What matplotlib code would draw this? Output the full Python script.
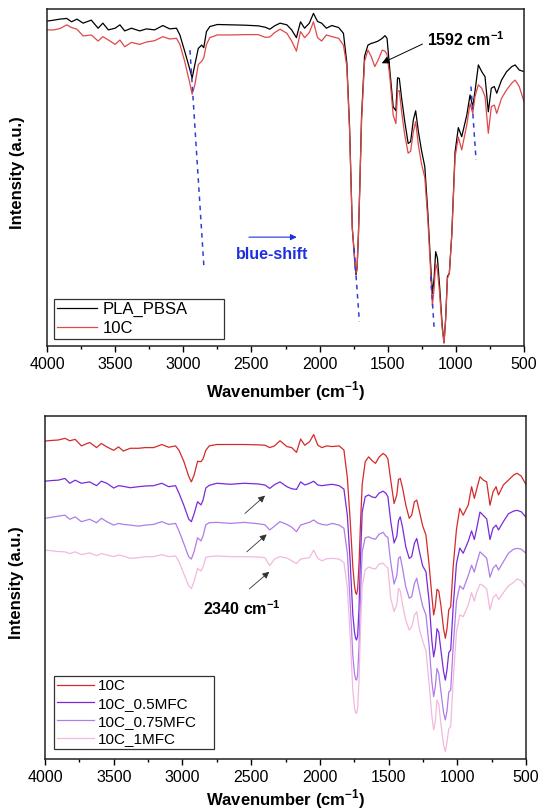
import matplotlib
matplotlib.use('Agg')
import matplotlib.pyplot as plt
from matplotlib.ticker import MultipleLocator

plt.rcParams['font.family'] = ['Liberation Sans', 'DejaVu Sans']
plt.rcParams['mathtext.fontset'] = 'custom'
plt.rcParams['mathtext.rm'] = 'Liberation Sans'
plt.rcParams['mathtext.bf'] = 'Liberation Sans:bold'

# wavenumber grid (cm-1) shared by all spectra
wn = [4000, 3950, 3905, 3855, 3820, 3780, 3735, 3675, 3625, 3590,
      3550, 3500, 3465, 3430, 3380, 3320, 3270, 3210, 3150, 3100,
      3050, 3025, 2990, 2955, 2935, 2915, 2890, 2865, 2850, 2830,
      2805, 2750, 2650, 2550, 2450, 2400, 2365, 2330, 2290, 2240,
      2205, 2170, 2140, 2110, 2075, 2045, 2015, 1985, 1950, 1910,
      1860, 1825, 1800, 1780, 1760, 1748, 1740, 1733, 1725, 1715,
      1705, 1692, 1670, 1645, 1620, 1595, 1570, 1540, 1520, 1505,
      1485, 1460, 1440, 1428, 1415, 1398, 1375, 1350, 1332, 1312,
      1295, 1275, 1252, 1228, 1205, 1185, 1172, 1160, 1148, 1135,
      1120, 1100, 1087, 1075, 1062, 1048, 1030, 1006, 982, 957,
      920, 896, 876, 860, 835, 810, 786, 762, 740, 718,
      700, 665, 628, 590, 565, 535, 500]

# top panel
pla_pbsa = [96.4, 96.7, 97.0, 97.2, 96.2, 97.0, 95.8, 96.7, 94.3, 95.8,
            93.8, 94.3, 95.3, 93.5, 94.3, 93.5, 94.1, 93.8, 95.1, 94.1,
            94.3, 92.3, 87.5, 82.5, 79.5, 83.5, 88.3, 89.3, 88.5, 93.3,
            94.8, 95.4, 95.3, 95.2, 95.0, 94.6, 94.0, 95.0, 95.8, 95.3,
            93.8, 91.5, 96.2, 94.3, 95.8, 98.7, 96.3, 95.8, 94.3, 95.1,
            94.5, 92.8, 84.0, 65.0, 35.0, 28.5, 24.0, 21.1, 23.0, 33.0,
            47.0, 68.0, 86.0, 89.3, 89.8, 90.1, 90.5, 91.3, 92.1, 91.3,
            82.0, 71.0, 69.8, 79.6, 79.4, 73.5, 66.6, 60.1, 60.6, 67.1,
            69.8, 63.6, 58.0, 53.2, 39.0, 24.0, 15.5, 20.0, 28.0, 26.0,
            18.0, 6.0, 1.0, 8.0, 20.6, 21.6, 33.0, 57.5, 64.8, 62.1,
            68.5, 74.5, 71.0, 75.5, 83.4, 81.4, 79.9, 69.5, 76.5, 77.0,
            75.0, 78.9, 81.4, 82.9, 83.4, 81.9, 81.4]
c10_top = [93.8, 93.8, 94.2, 95.3, 94.5, 94.0, 92.0, 92.3, 90.5, 91.8,
           90.8, 89.5, 90.8, 88.8, 90.1, 89.5, 90.2, 90.6, 91.8, 91.1,
           91.3, 89.5, 84.5, 78.5, 74.7, 77.5, 83.5, 84.5, 85.5, 89.5,
           91.5, 92.3, 92.3, 92.4, 92.4, 91.6, 91.7, 93.0, 94.0, 92.8,
           90.5, 87.5, 93.3, 91.5, 93.0, 96.2, 91.5, 90.5, 92.3, 91.8,
           91.3, 89.3, 83.0, 64.0, 35.0, 29.0, 24.5, 21.6, 23.0, 33.0,
           47.0, 67.0, 84.5, 87.8, 85.8, 82.9, 84.9, 87.8, 87.5, 86.5,
           80.0, 68.5, 66.0, 75.5, 75.8, 69.5, 62.6, 57.2, 57.8, 63.6,
           66.6, 59.6, 54.0, 50.0, 37.0, 22.0, 12.0, 17.0, 24.5, 22.5,
           16.0, 5.0, 0.8, 8.0, 20.0, 21.5, 33.0, 56.0, 62.0, 58.2,
           65.6, 72.0, 69.0, 74.0, 77.5, 76.5, 74.0, 63.1, 71.0, 71.5,
           69.0, 73.5, 76.0, 78.0, 78.9, 77.0, 72.5]

# bottom panel
c10 = [92.7, 92.9, 93.0, 93.5, 92.8, 93.2, 91.3, 92.3, 90.8, 92.0,
       91.0, 90.0, 91.0, 89.8, 90.6, 90.6, 90.8, 90.8, 91.7, 90.9,
       91.3, 90.0, 86.8, 82.5, 80.8, 82.8, 86.8, 86.7, 87.5, 90.0,
       91.3, 91.7, 91.7, 91.7, 91.6, 91.5, 90.8, 91.3, 92.8, 91.1,
       90.8, 89.4, 93.3, 91.5, 92.5, 94.6, 91.5, 90.8, 91.3, 91.1,
       91.3, 90.1, 82.0, 70.0, 56.0, 50.5, 48.5, 48.0, 49.5, 57.0,
       68.0, 80.0, 86.7, 88.1, 87.0, 86.2, 88.0, 89.1, 88.5, 87.5,
       81.5, 74.5, 77.0, 81.5, 81.8, 79.0, 74.1, 70.2, 71.1, 75.0,
       75.5, 72.1, 68.0, 65.3, 56.6, 47.5, 42.0, 44.5, 49.5, 49.0,
       45.0, 38.0, 35.2, 38.0, 43.5, 44.4, 56.1, 67.0, 73.1, 71.1,
       74.1, 79.4, 76.0, 78.5, 82.3, 81.3, 80.8, 74.0, 77.9, 79.4,
       77.0, 79.9, 81.3, 82.8, 83.3, 82.5, 80.0]
c10_05mfc = [81.0, 81.2, 81.3, 81.8, 80.4, 81.3, 80.4, 80.8, 79.7, 81.0,
             80.4, 79.0, 79.7, 79.5, 79.1, 79.4, 79.6, 79.7, 80.4, 79.4,
             79.7, 77.5, 74.0, 70.0, 69.2, 71.5, 75.0, 74.1, 75.5, 79.0,
             79.8, 80.4, 80.1, 80.4, 80.2, 79.9, 78.9, 80.0, 80.8, 79.4,
             78.8, 78.6, 80.8, 79.9, 80.4, 81.0, 79.9, 79.7, 79.9, 80.1,
             79.7, 78.7, 71.0, 58.0, 42.0, 37.0, 35.2, 34.7, 36.0, 44.0,
             58.0, 72.0, 76.5, 77.0, 76.4, 76.2, 77.5, 78.1, 77.5, 76.5,
             69.5, 63.0, 65.0, 69.5, 70.6, 67.5, 61.9, 58.5, 59.0, 62.9,
             64.3, 60.4, 56.3, 54.6, 46.0, 34.5, 29.8, 32.5, 38.0, 37.0,
             32.0, 25.5, 23.0, 26.0, 31.0, 31.8, 44.4, 57.0, 61.5, 60.0,
             63.5, 66.5, 64.0, 67.0, 72.0, 71.0, 70.0, 64.0, 67.3, 68.2,
             66.8, 69.2, 71.5, 72.3, 72.5, 72.1, 70.5]
c10_075mfc = [70.2, 70.5, 70.8, 71.1, 69.9, 70.6, 69.2, 69.9, 68.9, 70.2,
              69.2, 68.2, 68.7, 68.4, 68.2, 67.9, 68.2, 68.4, 69.2, 68.4,
              68.7, 66.5, 62.8, 59.0, 58.3, 60.5, 64.5, 63.6, 65.0, 68.3,
              68.9, 69.0, 68.7, 69.0, 68.6, 68.3, 66.8, 67.9, 69.2, 68.4,
              67.6, 66.3, 68.2, 68.6, 69.0, 69.7, 68.8, 68.4, 68.2, 68.7,
              68.2, 67.3, 60.0, 46.0, 30.0, 25.0, 23.3, 23.0, 24.5, 33.0,
              47.0, 60.5, 64.5, 64.8, 64.3, 64.1, 65.5, 66.1, 65.0, 64.6,
              57.5, 51.0, 53.5, 58.5, 59.0, 55.5, 50.2, 46.9, 47.3, 51.2,
              52.7, 48.8, 44.6, 42.0, 33.0, 22.5, 18.2, 21.0, 26.4, 25.0,
              20.0, 13.5, 11.4, 14.0, 19.5, 20.1, 32.7, 46.0, 50.5, 49.5,
              53.5, 56.5, 54.5, 57.0, 60.4, 59.5, 58.5, 53.0, 55.6, 56.6,
              55.1, 57.5, 60.0, 61.2, 61.4, 61.2, 60.0]
c10_1mfc = [60.9, 60.7, 60.5, 60.4, 59.9, 60.4, 59.6, 60.1, 59.3, 59.9,
            59.5, 59.0, 59.5, 59.2, 58.5, 58.7, 59.0, 59.0, 59.6, 59.0,
            59.2, 57.5, 54.0, 50.5, 49.7, 51.8, 55.6, 54.8, 56.0, 58.8,
            59.0, 59.2, 59.0, 59.0, 58.9, 58.7, 56.4, 58.3, 59.0, 58.6,
            57.8, 57.0, 58.3, 58.5, 58.7, 60.9, 58.5, 57.8, 58.4, 58.5,
            58.3, 57.3, 50.0, 36.0, 20.0, 15.0, 13.5, 13.3, 14.8, 23.0,
            37.0, 50.5, 55.1, 56.0, 55.6, 55.4, 56.8, 57.1, 56.2, 55.7,
            47.0, 43.0, 45.0, 49.8, 49.0, 45.0, 40.5, 37.6, 38.5, 42.0,
            42.9, 37.6, 34.5, 31.5, 22.0, 12.5, 8.5, 11.0, 17.2, 16.0,
            10.5, 4.0, 2.1, 5.0, 8.8, 9.4, 23.0, 37.0, 42.0, 41.5,
            45.0, 48.5, 46.0, 48.5, 51.0, 50.5, 49.5, 43.5, 47.0, 48.0,
            46.5, 48.5, 50.5, 51.5, 52.5, 52.0, 50.0]

# blue dashed guide lines (start wn, start I, end wn, end I)
guide_x0 = [2951, 1747, 1185, 889]
guide_y0 = [87.8, 29.0, 20.6, 77.0]
guide_x1 = [2848, 1708, 1160, 852]
guide_y1 = [23.0, 7.2, 5.7, 55.2]

# arrows pointing to 2340 cm-1 (bottom panel)
co2_x0 = [2545, 2532, 2513]
co2_y0 = [71.6, 60.4, 49.6]
co2_x1 = [2399, 2387, 2368]
co2_y1 = [76.8, 65.5, 54.6]

fig = plt.figure(figsize=(5.39, 8.11), dpi=100)
ax1 = fig.add_axes([0.0872, 0.5734, 0.885, 0.4155])
ax2 = fig.add_axes([0.0835, 0.0641, 0.8924, 0.4229])

ax1.plot(wn, pla_pbsa, color='black', lw=0.9, label='PLA_PBSA')
ax1.plot(wn, c10_top, color='#E0484A', lw=0.9, label='10C')

for i in range(len(guide_x0)):
    ax1.plot([guide_x0[i], guide_x1[i]], [guide_y0[i], guide_y1[i]],
             color='#2E3FD6', lw=1.1, ls=(0, (3, 3)))

ax1.annotate('', xy=(1544, 83.9), xytext=(1245, 89.6),
             arrowprops=dict(arrowstyle='-|>', color='black', lw=0.7,
                             mutation_scale=11, shrinkA=0, shrinkB=0))
ax1.text(1214, 90.8, r'1592 cm$^{\mathbf{-1}}$', fontsize=11.5,
         fontweight='bold', ha='left', va='center')

ax1.annotate('', xy=(2168, 32.3), xytext=(2518, 32.3),
             arrowprops=dict(arrowstyle='-|>', color='#1F2FE0', lw=0.8,
                             mutation_scale=9, shrinkA=0, shrinkB=0))
ax1.text(2611, 27.0, 'blue-shift', fontsize=11.5, fontweight='bold',
         color='#1F2FE0', ha='left', va='center')

ax2.plot(wn, c10, color='#D42A2A', lw=0.9, label='10C')
ax2.plot(wn, c10_05mfc, color='#7A2BD9', lw=0.9, label='10C_0.5MFC')
ax2.plot(wn, c10_075mfc, color='#B07CEA', lw=0.9, label='10C_0.75MFC')
ax2.plot(wn, c10_1mfc, color='#F4B8DE', lw=0.9, label='10C_1MFC')

for i in range(len(co2_x0)):
    ax2.annotate('', xy=(co2_x1[i], co2_y1[i]), xytext=(co2_x0[i], co2_y0[i]),
                 arrowprops=dict(arrowstyle='-|>', color='#333333', lw=0.6,
                                 mutation_scale=10, shrinkA=0, shrinkB=0))
ax2.text(2850, 43.9, r'2340 cm$^{\mathbf{-1}}$', fontsize=11.5,
         fontweight='bold', ha='left', va='center')

for ax in (ax1, ax2):
    ax.set_xlim(4000, 500)
    ax.set_ylim(0, 100)
    ax.set_yticks([])
    ax.xaxis.set_major_locator(MultipleLocator(500))
    ax.xaxis.set_minor_locator(MultipleLocator(250))
    ax.tick_params(axis='x', which='major', direction='out', length=4,
                   width=1, pad=4, labelsize=11.5)
    ax.tick_params(axis='x', which='minor', direction='out', length=2.5, width=1)
    for s in ax.spines.values():
        s.set_linewidth(1.1)
        s.set_color('#222222')
    ax.set_xlabel(r'Wavenumber (cm$^{\mathbf{-1}}$)', fontsize=12,
                  fontweight='bold')
    ax.set_ylabel('Intensity (a.u.)', fontsize=12, fontweight='bold')

ax1.xaxis.set_label_coords(0.5, -0.10)
ax2.xaxis.set_label_coords(0.5, -0.084)
ax1.yaxis.set_label_coords(-0.047, 0.513)
ax2.yaxis.set_label_coords(-0.043, 0.513)

leg1 = ax1.legend(loc='lower left', bbox_to_anchor=(0.0147, 0.0208, 0.356, 0.13),
                  mode='expand', borderaxespad=0, fontsize=12, frameon=True,
                  fancybox=False, edgecolor='black', handlelength=2.4,
                  handletextpad=0.3, labelspacing=0.2, borderpad=0.2)
leg1.get_frame().set_linewidth(0.9)

leg2 = ax2.legend(loc='lower left', bbox_to_anchor=(0.0187, 0.028, 0.333, 0.2),
                  mode='expand', borderaxespad=0, fontsize=11, frameon=True,
                  fancybox=False, edgecolor='black', handlelength=2.4,
                  handletextpad=0.3, labelspacing=0.25, borderpad=0.2)
leg2.get_frame().set_linewidth(0.9)

fig.savefig('out.png', dpi=100)
